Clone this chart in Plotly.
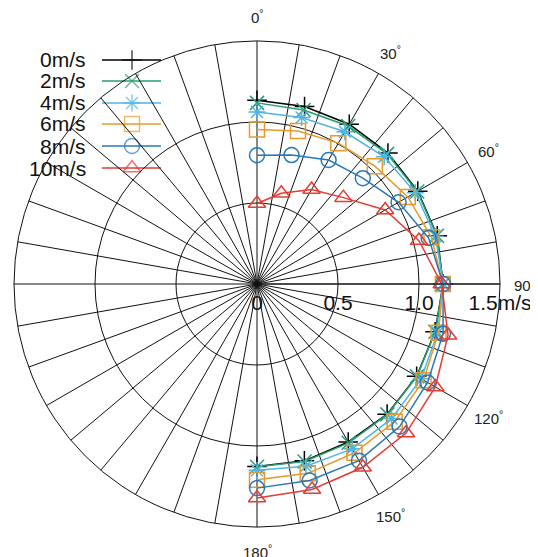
import math
import plotly.graph_objects as go

# ---------------- data ----------------
theta_deg = [0, 15, 30, 45, 60, 75, 90, 105, 120, 135, 150, 165, 180]
speeds = ["0m/s", "2m/s", "4m/s", "6m/s", "8m/s", "10m/s"]
v0 = [1.134, 1.134, 1.139, 1.143, 1.146, 1.152, 1.149, 1.138, 1.138, 1.136, 1.126, 1.130, 1.126]
v2 = [1.118, 1.112, 1.126, 1.136, 1.142, 1.150, 1.148, 1.140, 1.140, 1.138, 1.132, 1.134, 1.128]
v4 = [1.062, 1.064, 1.085, 1.110, 1.128, 1.140, 1.150, 1.155, 1.170, 1.175, 1.175, 1.165, 1.150]
v6 = [0.954, 0.978, 1.004, 1.029, 1.075, 1.115, 1.147, 1.160, 1.187, 1.202, 1.203, 1.210, 1.208]
v8 = [0.795, 0.824, 0.884, 0.924, 1.009, 1.097, 1.149, 1.189, 1.216, 1.245, 1.259, 1.256, 1.260]
v10 = [0.497, 0.580, 0.674, 0.754, 0.914, 1.035, 1.140, 1.221, 1.271, 1.301, 1.306, 1.313, 1.321]
series = [v0, v2, v4, v6, v8, v10]

radial_ticks = [0, 0.5, 1.0, 1.5]
radial_labels = ["0", "0.5", "1.0", "1.5m/s"]
angle_grid = list(range(0, 360, 10))
angle_label_vals = [0, 30, 60, 90, 120, 150, 180]
angle_label_text = ["0", "30", "60", "90", "120", "150", "180"]

# ---------------- styles ----------------
colors = ["#000000", "#2A9D6F", "#4FB5E6", "#E69A2E", "#2878B8", "#E53B35"]
symbols = ["cross-thin-open", "x-thin-open", "asterisk-open", "square-open", "circle-open", "triangle-up-open"]
sizes = [14, 14, 14, 15, 15, 15]
FONT = "Liberation Sans, Arial, sans-serif"

OFF = 8  # default page body margin (left/top)
W, H = 538 - OFF, 557 - OFF
ML, MR, MT, MB = 14 - OFF, 38, 41 - OFF, 30
PW, PH = W - ML - MR, H - MT - MB

fig = go.Figure()
for name, vals, c, s, sz in zip(speeds, series, colors, symbols, sizes):
    fig.add_trace(go.Scatterpolar(
        r=vals, theta=theta_deg, mode="lines+markers", name=name,
        line=dict(color=c, width=1.5),
        marker=dict(symbol=s, size=sz, color=c, line=dict(color=c, width=1.5)),
        showlegend=False, cliponaxis=False,
    ))


def px2paper_x(px):
    return (px - OFF - ML) / PW


def px2paper_y(py):
    return 1 - (py - OFF - MT) / PH


# ---------- custom legend (text left, sample right) ----------
leg_rows_px = [60, 81, 103, 124, 146, 168]
lx0, lxm, lx1, ltxt = 102, 132, 161, 88

annotations = []
for name, c, s, sz, ry in zip(speeds, colors, symbols, sizes, leg_rows_px):
    yy = px2paper_y(ry)
    fig.add_trace(go.Scatter(
        x=[px2paper_x(lx0), px2paper_x(lxm), px2paper_x(lx1)], y=[yy, yy, yy],
        mode="lines+markers", xaxis="x", yaxis="y", showlegend=False,
        line=dict(color=c, width=1.5),
        marker=dict(symbol=s, size=[0, sz, 0], color=c, line=dict(color=c, width=1.5)),
        cliponaxis=False, hoverinfo="skip",
    ))
    annotations.append(dict(
        x=px2paper_x(ltxt), y=yy, xref="paper", yref="paper", text=name,
        showarrow=False, xanchor="right", yanchor="middle",
        font=dict(family=FONT, size=21, color="#111111"),
    ))

# ---------- angle labels, centred at 1.1 x outer radius (MATLAB style) ----------
for a, t in zip(angle_label_vals, angle_label_text):
    rad = math.radians(a)
    annotations.append(dict(
        x=0.5 + 0.55 * math.sin(rad), y=0.5 + 0.55 * math.cos(rad),
        xref="paper", yref="paper", text=t + "<sup>°</sup>",
        showarrow=False, xanchor="center", yanchor="middle",
        font=dict(family=FONT, size=15, color="#222222"),
    ))

fig.update_layout(
    width=W, height=H,
    margin=dict(l=ML, r=MR, t=MT, b=MB, autoexpand=False),
    paper_bgcolor="white", plot_bgcolor="rgba(0,0,0,0)",
    font=dict(family=FONT, color="#111111"),
    annotations=annotations,
    xaxis=dict(domain=[0, 1], range=[0, 1], visible=False, fixedrange=True),
    yaxis=dict(domain=[0, 1], range=[0, 1], visible=False, fixedrange=True),
    polar=dict(
        domain=dict(x=[0, 1], y=[0, 1]),
        bgcolor="rgba(0,0,0,0)",
        angularaxis=dict(
            rotation=90, direction="clockwise",
            tickmode="array", tickvals=angle_grid,
            showticklabels=False, ticks="",
            showgrid=True, gridcolor="#111111", gridwidth=0.8,
            showline=True, linecolor="#111111", linewidth=1,
        ),
        radialaxis=dict(
            range=[0, 1.5], angle=0, tickangle=0,
            tickmode="array", tickvals=radial_ticks, ticktext=radial_labels,
            showgrid=True, gridcolor="#111111", gridwidth=0.8,
            showline=True, linecolor="#111111", linewidth=1.2,
            ticks="", side="clockwise",
            tickfont=dict(family=FONT, size=21, color="#111111"),
        ),
    ),
)

fig.write_html("out.html")
